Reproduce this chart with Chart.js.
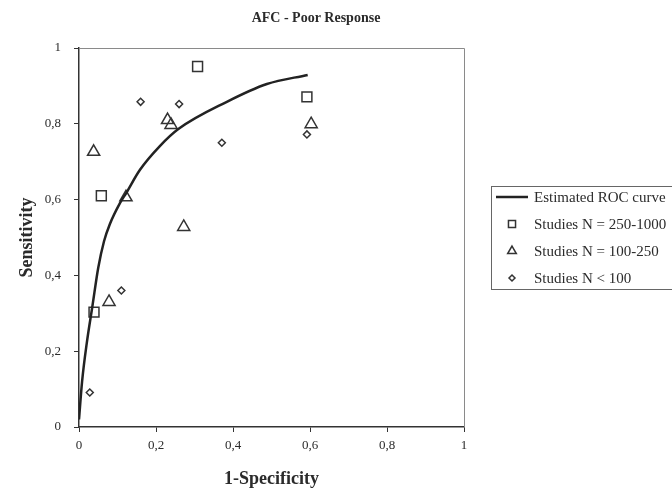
<!DOCTYPE html>
<html>
<head>
<meta charset="UTF-8">
<title>AFC - Poor Response</title>
<script src="https://cdn.jsdelivr.net/npm/chart.js"></script>
<style>
  *{margin:0; padding:0;}
  body{background:#fff;}
</style>
</head>
<body>
<canvas id="myChart" width="672" height="488"></canvas>
<script>
// values
const curveX = [0, 0.008, 0.02, 0.035, 0.05, 0.065, 0.08, 0.106, 0.123, 0.158, 0.21, 0.258, 0.384, 0.488, 0.594];
const curveY = [0.02, 0.12, 0.22, 0.32, 0.42, 0.49, 0.535, 0.59, 0.618, 0.678, 0.741, 0.786, 0.858, 0.905, 0.929];

const bigX = [0.039, 0.058, 0.308, 0.592];            // N = 250-1000
const bigY = [0.303, 0.61, 0.951, 0.871];
const midX = [0.038, 0.078, 0.122, 0.23, 0.239, 0.272, 0.603]; // N = 100-250
const midY = [0.726, 0.33, 0.606, 0.81, 0.797, 0.528, 0.799];
const smallX = [0.028, 0.11, 0.16, 0.26, 0.371, 0.592]; // N < 100
const smallY = [0.091, 0.36, 0.858, 0.852, 0.75, 0.772];

const xTickLabels = ['0', '0,2', '0,4', '0,6', '0,8', '1'];
const yTickLabels = ['0', '0,2', '0,4', '0,6', '0,8', '1'];

const seriesNames = ['Estimated ROC curve', 'Studies N = 250-1000', 'Studies N = 100-250', 'Studies N < 100'];
const chartTitle = 'AFC - Poor Response';

const FONT = "'Liberation Serif', 'Times New Roman', serif";
const INK = '#2b2b2b';

function pts(xs, ys){
  return xs.map((x, i) => ({x: x, y: ys[i]}));
}

// title, grey box on top/right, and the framed legend
const extras = {
  id: 'extras',
  afterDraw(chart){
    const ctx = chart.ctx;
    const a = chart.chartArea;
    ctx.save();
    // top + right frame
    ctx.strokeStyle = '#8a8a8a';
    ctx.lineWidth = 1;
    ctx.beginPath();
    ctx.moveTo(a.left, a.top + 0.5);
    ctx.lineTo(a.right + 0.5, a.top + 0.5);
    ctx.lineTo(a.right + 0.5, a.bottom);
    ctx.stroke();

    // title
    ctx.fillStyle = INK;
    ctx.font = "bold 14px " + FONT;
    ctx.textAlign = 'center';
    ctx.textBaseline = 'middle';
    ctx.fillText(chartTitle, 316, 18);

    // legend
    const lx = 491, ly = 186, lh = 103, rowH = 27;
    ctx.strokeStyle = '#666';
    ctx.lineWidth = 1;
    ctx.strokeRect(lx + 0.5, ly + 0.5, 200, lh);
    ctx.font = "15px " + FONT;
    ctx.textAlign = 'left';
    chart.data.datasets.forEach((ds, i) => {
      const y = ly + 11 + i * rowH;
      if (i === 0) {
        ctx.strokeStyle = ds.borderColor;
        ctx.lineWidth = ds.borderWidth;
        ctx.beginPath();
        ctx.moveTo(496, y);
        ctx.lineTo(528, y);
        ctx.stroke();
      } else {
        ctx.strokeStyle = ds.pointBorderColor;
        ctx.fillStyle = 'rgba(0,0,0,0)';
        ctx.lineWidth = ds.pointBorderWidth;
        Chart.helpers.drawPoint(ctx, {
          pointStyle: ds.pointStyle,
          radius: ds.legendRadius,
          borderWidth: ds.pointBorderWidth,
          rotation: 0
        }, 512, y);
      }
      ctx.fillStyle = INK;
      ctx.fillText(ds.label, 534, y + 1);
    });
    ctx.restore();
  }
};

new Chart(document.getElementById('myChart'), {
  type: 'scatter',
  data: {
    datasets: [{
      label: seriesNames[0],
      data: pts(curveX, curveY),
      showLine: true,
      borderColor: '#222',
      borderWidth: 2.5,
      pointRadius: 0,
      cubicInterpolationMode: 'monotone',
      fill: false
    }, {
      label: seriesNames[1],
      data: pts(bigX, bigY),
      pointStyle: 'rect',
      pointRadius: 7,
      legendRadius: 5,
      pointBorderWidth: 1.5,
      pointBorderColor: '#333',
      pointBackgroundColor: 'rgba(0,0,0,0)'
    }, {
      label: seriesNames[2],
      data: pts(midX, midY),
      pointStyle: 'triangle',
      pointRadius: 7,
      legendRadius: 5,
      pointBorderWidth: 1.5,
      pointBorderColor: '#333',
      pointBackgroundColor: 'rgba(0,0,0,0)'
    }, {
      label: seriesNames[3],
      data: pts(smallX, smallY),
      pointStyle: 'rectRot',
      pointRadius: 3.5,
      legendRadius: 3,
      pointBorderWidth: 1.5,
      pointBorderColor: '#333',
      pointBackgroundColor: 'rgba(0,0,0,0)'
    }]
  },
  options: {
    responsive: false,
    animation: false,
    devicePixelRatio: 1,
    layout: {padding: {top: 48, right: 208, left: 0, bottom: 0}},
    plugins: {
      legend: {display: false},
      tooltip: {enabled: false}
    },
    scales: {
      x: {
        type: 'linear',
        min: 0, max: 1,
        afterFit: s => { s.height = 61; },
        ticks: {
          stepSize: 0.2,
          padding: 6,
          color: INK,
          font: {family: FONT, size: 13},
          callback: (v, i) => xTickLabels[i]
        },
        grid: {drawOnChartArea: false, drawTicks: true, tickLength: 5, color: '#333', lineWidth: 1},
        border: {display: true, color: '#333', width: 1.5},
        title: {display: true, text: '1-Specificity', color: INK,
                font: {family: FONT, size: 18, weight: 'bold', lineHeight: 1}, padding: {top: 0, bottom: 0}}
      },
      y: {
        type: 'linear',
        min: 0, max: 1,
        afterFit: s => { s.width = 79; },
        ticks: {
          stepSize: 0.2,
          padding: 13,
          color: INK,
          font: {family: FONT, size: 13},
          callback: (v, i) => yTickLabels[i]
        },
        grid: {drawOnChartArea: false, drawTicks: true, tickLength: 5, color: '#333', lineWidth: 1},
        border: {display: true, color: '#333', width: 1.5},
        title: {display: true, text: 'Sensitivity', color: INK,
                font: {family: FONT, size: 18, weight: 'bold', lineHeight: 1}, padding: {top: 18, bottom: 0}}
      }
    }
  },
  plugins: [extras]
});
</script>
</body>
</html>
